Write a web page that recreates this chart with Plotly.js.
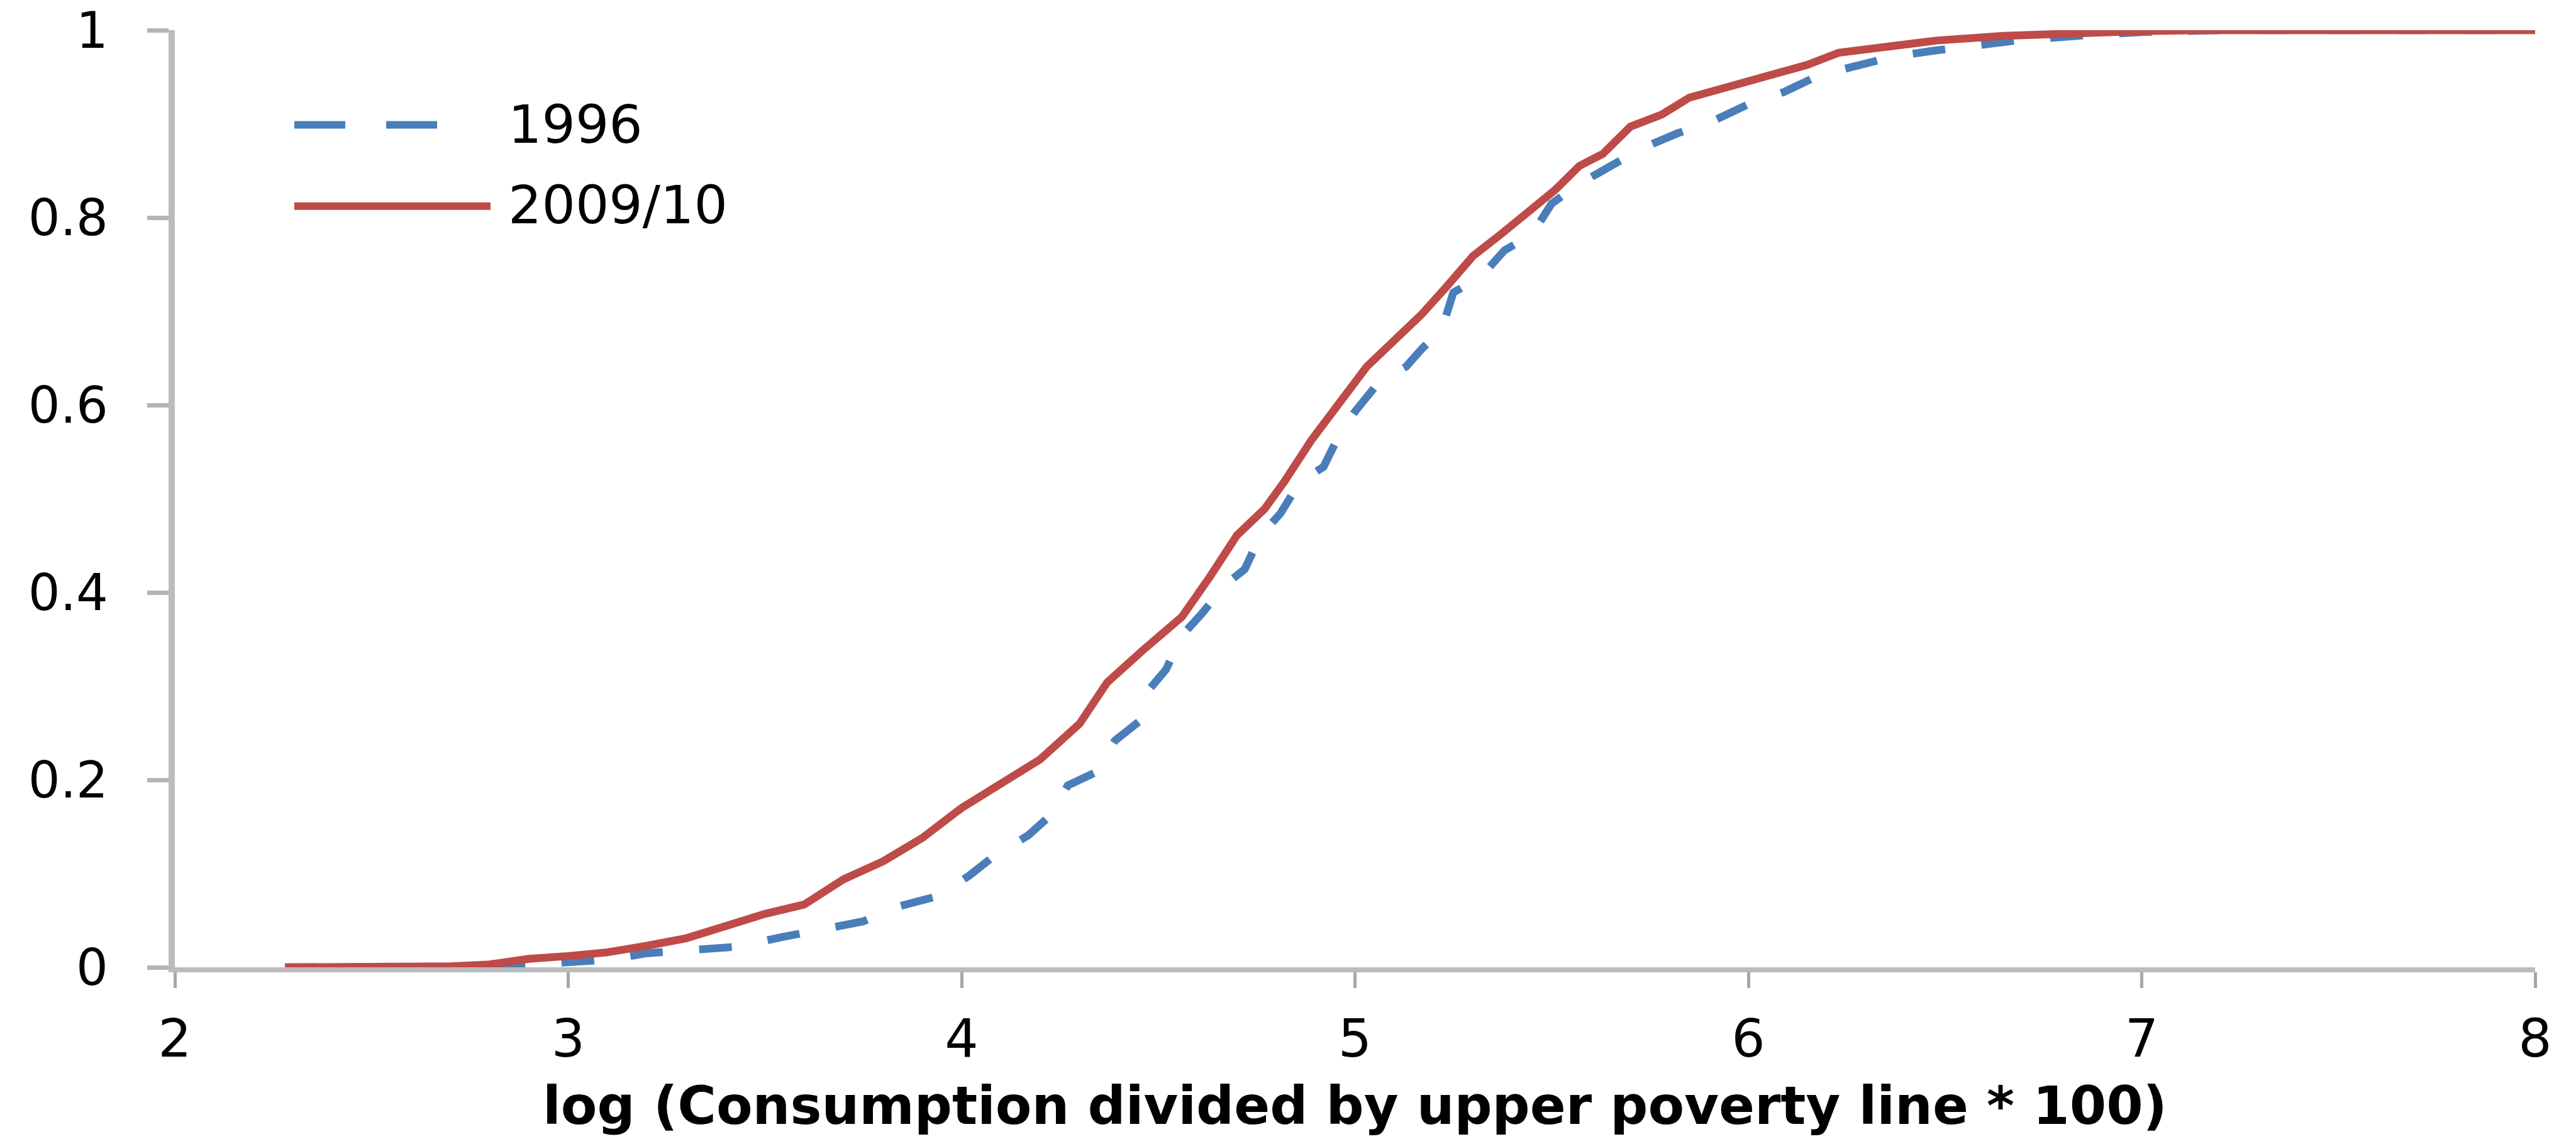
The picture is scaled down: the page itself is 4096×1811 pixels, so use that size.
<!DOCTYPE html>
<html>
<head>
<meta charset="utf-8">
<script src="https://cdn.plot.ly/plotly-3.0.1.min.js"></script>
<style>
html,body{margin:0;padding:0;background:#fff;overflow:hidden}
#chart{width:4096px;height:1811px}
</style>
</head>
<body>
<div id="chart"></div>
<script>
// ---- data ----
const seriesNames = ["1996", "2009/10"];
const x1996 = [2.28, 2.75, 2.86, 2.98, 3.10, 3.20, 3.32, 3.43, 3.54, 3.64, 3.75, 3.84, 3.94, 4.02, 4.08, 4.17, 4.22, 4.27, 4.34, 4.39, 4.45, 4.48, 4.52, 4.56, 4.61, 4.67, 4.72, 4.76, 4.81, 4.86, 4.92, 4.96, 5.00, 5.06, 5.13, 5.17, 5.22, 5.25, 5.32, 5.38, 5.45, 5.50, 5.57, 5.65, 5.73, 5.82, 5.91, 6.00, 6.09, 6.18, 6.27, 6.37, 6.47, 6.59, 6.68, 6.87, 7.00, 7.20, 8.00];
const y1996 = [0, 0, 0.001, 0.005, 0.008, 0.015, 0.019, 0.022, 0.032, 0.041, 0.049, 0.065, 0.076, 0.098, 0.118, 0.141, 0.160, 0.194, 0.208, 0.242, 0.262, 0.298, 0.318, 0.354, 0.377, 0.408, 0.425, 0.461, 0.484, 0.518, 0.534, 0.568, 0.593, 0.624, 0.641, 0.660, 0.680, 0.720, 0.737, 0.765, 0.782, 0.815, 0.836, 0.855, 0.874, 0.890, 0.903, 0.921, 0.934, 0.952, 0.962, 0.972, 0.978, 0.985, 0.989, 0.995, 0.998, 1.0, 1.0];
const x2009 = [2.28, 2.5, 2.7, 2.8, 2.9, 3.0, 3.1, 3.2, 3.3, 3.4, 3.5, 3.6, 3.7, 3.8, 3.9, 4.0, 4.1, 4.2, 4.3, 4.37, 4.46, 4.56, 4.63, 4.70, 4.77, 4.82, 4.89, 4.96, 5.03, 5.10, 5.17, 5.23, 5.30, 5.37, 5.44, 5.51, 5.57, 5.63, 5.70, 5.78, 5.85, 5.93, 6.03, 6.15, 6.23, 6.35, 6.48, 6.65, 6.82, 7.0, 7.15, 8.0];
const y2009 = [0, 0, 0.001, 0.003, 0.009, 0.012, 0.016, 0.023, 0.031, 0.044, 0.057, 0.067, 0.094, 0.113, 0.138, 0.170, 0.195, 0.222, 0.260, 0.304, 0.338, 0.374, 0.416, 0.461, 0.489, 0.518, 0.563, 0.602, 0.641, 0.669, 0.697, 0.725, 0.759, 0.782, 0.807, 0.830, 0.855, 0.868, 0.897, 0.910, 0.928, 0.937, 0.950, 0.963, 0.976, 0.983, 0.989, 0.994, 0.997, 0.999, 1.0, 1.0];
const xTickVals = [2, 3, 4, 5, 6, 7, 8];
const xTickText = ["2", "3", "4", "5", "6", "7", "8"];
const yTickVals = [0, 0.2, 0.4, 0.6, 0.8, 1];
const yTickText = ["0", "0.2", "0.4", "0.6", "0.8", "1"];
const xAxisTitle = "log (Consumption divided by upper poverty line * 100)";

// ---- styling / layout ----
const W = 4096, H = 1811;
const M = {l: 278, r: 65, t: 48, b: 273};
const PW = W - M.l - M.r, PH = H - M.t - M.b;
const px2x = p => (p - M.l) / PW;          // page px -> paper x
const px2y = p => (M.t + PH - p) / PH;     // page px -> paper y
const BLUE = "#4a7ebb", RED = "#be4b48";
const FONT = "DejaVu Sans";
const LW = 12.5;

const traces = [
  {x: x1996, y: y1996, name: seriesNames[0], type: "scatter", mode: "lines",
   line: {color: BLUE, width: LW, dash: "52px,58px"}, cliponaxis: false, hoverinfo: "skip"},
  {x: x2009, y: y2009, name: seriesNames[1], type: "scatter", mode: "lines",
   line: {color: RED, width: LW}, cliponaxis: false, hoverinfo: "skip"}
];

const tickFont = {family: FONT, size: 84, color: "#000"};
const yTickFont = {family: FONT, size: 80, color: "#000"};

const layout = {
  width: W, height: H,
  margin: M,
  paper_bgcolor: "#fff", plot_bgcolor: "#fff",
  showlegend: false,
  xaxis: {
    range: [2, 8], tickmode: "array", tickvals: xTickVals, ticktext: xTickText,
    showgrid: false, zeroline: false,
    showline: true, linecolor: "#bcbcbc", linewidth: 8,
    ticks: "outside", ticklen: 25, tickwidth: 5, tickcolor: "#a6a6a6",
    tickfont: tickFont, ticklabelstandoff: 8, ticklabeloverflow: "allow",
    layer: "below traces"
  },
  yaxis: {
    range: [0, 1], tickmode: "array", tickvals: yTickVals, ticktext: yTickText,
    showgrid: false, zeroline: false,
    showline: true, linecolor: "#bcbcbc", linewidth: 10,
    ticks: "outside", ticklen: 34, tickwidth: 7, tickcolor: "#b4b4b4",
    tickfont: yTickFont, ticklabelstandoff: 46, ticklabeloverflow: "allow",
    layer: "below traces"
  },
  shapes: [
    {type: "line", xref: "paper", yref: "paper",
     x0: px2x(468), x1: px2x(697), y0: px2y(198.5), y1: px2y(198.5),
     line: {color: BLUE, width: 12, dash: "81px,65px"}},
    {type: "line", xref: "paper", yref: "paper",
     x0: px2x(468), x1: px2x(780), y0: px2y(327.7), y1: px2y(327.7),
     line: {color: RED, width: 12}}
  ],
  annotations: [
    {text: seriesNames[0], xref: "paper", yref: "paper", x: px2x(806), y: px2y(198),
     xanchor: "left", yanchor: "middle", showarrow: false, font: tickFont},
    {text: seriesNames[1], xref: "paper", yref: "paper", x: px2x(806), y: px2y(326),
     xanchor: "left", yanchor: "middle", showarrow: false, font: tickFont},
    {text: xAxisTitle, xref: "paper", yref: "paper", x: 0.5, y: px2y(1758),
     xanchor: "center", yanchor: "middle", showarrow: false,
     font: {family: FONT, size: 84, color: "#000", weight: 700}}
  ]
};

Plotly.newPlot("chart", traces, layout, {staticPlot: true, displayModeBar: false});
</script>
</body>
</html>
